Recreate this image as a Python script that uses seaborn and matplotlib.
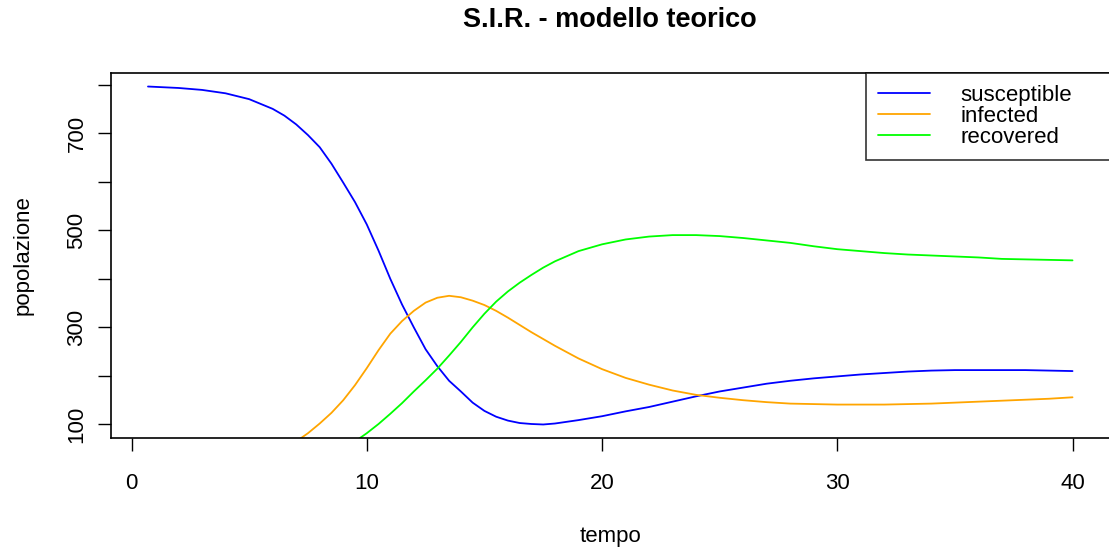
import numpy as np
import pandas as pd
import matplotlib
matplotlib.use("Agg")
import matplotlib.pyplot as plt
import seaborn as sns

# dati (modello S.I.R.)
tempo = [0.7, 2, 3, 4, 5, 6,
         6.5, 7, 7.5, 8, 8.5, 9, 9.5, 10, 10.5, 11, 11.5, 12,
         12.5, 13, 13.5, 14, 14.5, 15, 15.5, 16, 16.5, 17, 17.5,
         18, 19, 20, 21, 22, 23, 24, 25, 26, 27, 28, 29, 30,
         31, 32, 33, 34, 35, 36, 37, 38, 39, 40]
susceptible = [796, 793, 789, 782, 770, 750,
               736, 718, 696, 671, 637, 598, 558, 512, 458, 400, 347, 300,
               255, 220, 190, 168, 145, 128, 116, 108, 103, 101, 100,
               102, 109, 117, 127, 136, 147, 158, 168, 176, 184, 190, 195, 199,
               203, 206, 209, 211, 212, 212, 212, 212, 211, 210]
infected = [3, 5, 8, 14, 24, 40,
            51, 65, 82, 102, 124, 150, 181, 216, 253, 287, 313, 334,
            351, 361, 365, 362, 355, 346, 334, 320, 305, 290, 276,
            262, 236, 214, 196, 182, 170, 161, 155, 150, 146, 143, 142, 141,
            141, 141, 142, 143, 145, 147, 149, 151, 153, 156]
recovered = [1, 2, 3, 4, 6, 10,
             13, 17, 22, 28, 38, 50, 65, 82, 101, 122, 144, 168,
             191, 215, 242, 270, 300, 328, 353, 374, 392, 408, 423,
             436, 457, 471, 481, 487, 490, 490, 488, 484, 479, 474, 467, 461,
             457, 453, 450, 448, 446, 444, 441, 440, 439, 438]

serie = ["susceptible", "infected", "recovered"]
colori = ["blue", "orange", "#00FF00"]

df = pd.DataFrame({
    "tempo": tempo * 3,
    "popolazione": susceptible + infected + recovered,
    "serie": np.repeat(serie, len(tempo)),
})

sns.set_style("white")
plt.rcParams["font.family"] = ["Liberation Sans", "DejaVu Sans"]
plt.rcParams["text.color"] = "black"
plt.rcParams["axes.labelcolor"] = "black"

W, H = 1109, 553
fig = plt.figure(figsize=(W / 100, H / 100), dpi=100)
ax = fig.add_axes([111 / W, (H - 438) / H, 998.5 / W, (438 - 73) / H])

sns.lineplot(data=df, x="tempo", y="popolazione", hue="serie",
             palette=dict(zip(serie, colori)), sort=False,
             linewidth=1.3, ax=ax, legend=False)

# limiti stile R (4% di margine sui dati della prima serie)
xpad = 0.04 * (max(tempo) - min(tempo))
ypad = 0.04 * (max(susceptible) - min(susceptible))
ax.set_xlim(min(tempo) - xpad, max(tempo) + xpad)
ax.set_ylim(min(susceptible) - ypad, max(susceptible) + ypad)

ax.set_xticks([0, 10, 20, 30, 40])
ax.set_yticks(range(100, 900, 100))
ax.set_yticklabels([str(v) if v % 200 == 100 else "" for v in range(100, 900, 100)],
                   rotation=90, va="center")
ax.tick_params(axis="both", direction="out", length=9.5, width=1.0,
               color="black", labelsize=16, labelcolor="black",
               bottom=True, left=True, top=False, right=False)
ax.tick_params(axis="x", pad=16)
ax.tick_params(axis="y", pad=7.5)

for s in ["left", "bottom", "top"]:
    ax.spines[s].set_color("black")
    ax.spines[s].set_linewidth(1.2)
ax.spines["right"].set_visible(False)

ax.set_xlabel("tempo", fontsize=16, labelpad=23)
ax.set_ylabel("popolazione", fontsize=16, labelpad=23.5)
ax.set_title("S.I.R. - modello teorico", fontsize=19.5, fontweight="bold", pad=33)

handles = [plt.Line2D([], [], color=c, linewidth=1.3) for c in colori]
leg = ax.legend(handles, serie, loc="upper left",
                bbox_to_anchor=(866 / W, 1 - 73 / H - 0.1, 300 / W, 0.1),
                bbox_transform=fig.transFigure, mode="expand",
                borderaxespad=0, fontsize=16, frameon=True, fancybox=False,
                edgecolor="black", borderpad=0.55, labelspacing=0.0,
                handlelength=2.35, handletextpad=1.35)
leg.get_frame().set_linewidth(1.2)

fig.savefig("out.png", dpi=100)
